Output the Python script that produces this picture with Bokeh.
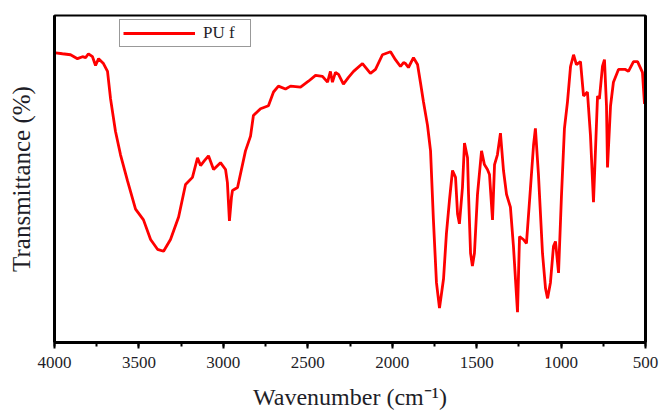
from bokeh.plotting import figure
from bokeh.models import Range1d, LinearAxis, SingleIntervalTicker, FixedTicker, Legend, LegendItem
from bokeh.embed import file_html
from bokeh.resources import INLINE

# FTIR spectrum of PUf
wavenumber = [3994, 3953, 3905, 3864, 3834, 3816, 3799, 3775, 3757, 3739, 3710, 3686, 3668, 3639,
              3609, 3568, 3520, 3473, 3431, 3390, 3354, 3313, 3265, 3224, 3183, 3153, 3135, 3112,
              3088, 3058, 3017, 2987, 2976, 2964, 2952, 2946, 2916, 2869, 2839, 2822, 2780, 2733,
              2703, 2674, 2632, 2602, 2543, 2496, 2454, 2413, 2383, 2366, 2354, 2336, 2318, 2289,
              2259, 2229, 2176, 2129, 2099, 2058, 2010, 1981, 1951, 1933, 1921, 1904, 1874, 1850,
              1833, 1815, 1791, 1773, 1756, 1738, 1720, 1696, 1679, 1661, 1643, 1625, 1613, 1602,
              1584, 1572, 1554, 1548, 1536, 1525, 1513, 1495, 1471, 1454, 1436, 1424, 1406, 1394,
              1377, 1359, 1341, 1323, 1300, 1282, 1258, 1246, 1223, 1205, 1181, 1163, 1152, 1134,
              1110, 1092, 1080, 1063, 1045, 1033, 1015, 998, 980, 962, 944, 926, 909, 885, 867,
              844, 826, 808, 784, 773, 755, 743, 731, 725, 707, 690, 660, 619, 601, 571, 547, 518, 506]
transmittance = [88.6, 88.3, 88.0, 86.8, 87.4, 87.1, 88.3, 87.4, 84.7, 86.8, 85.3, 82.9, 74.5, 64.6,
                 57.4, 49.5, 40.8, 37.5, 31.5, 28.5, 27.9, 31.5, 38.4, 48.3, 50.5, 56.5, 54.1, 55.6,
                 57.1, 52.9, 55.0, 52.9, 48.9, 37.2, 44.4, 46.5, 47.4, 58.6, 63.1, 69.4, 71.5, 72.4,
                 76.6, 78.4, 77.5, 78.4, 78.1, 79.9, 81.7, 81.4, 79.6, 82.9, 79.6, 82.6, 82.0, 79.0,
                 81.1, 82.9, 85.3, 82.3, 83.5, 88.0, 88.9, 86.5, 84.4, 85.6, 85.3, 84.1, 87.1, 85.0,
                 79.6, 73.6, 66.4, 58.6, 37.5, 18.3, 10.5, 19.5, 33.3, 43.5, 52.6, 50.5, 39.3, 36.3,
                 47.4, 61.0, 56.5, 45.3, 27.3, 23.4, 27.3, 45.3, 58.6, 54.4, 52.9, 51.4, 37.5, 54.4,
                 57.4, 64.0, 52.6, 45.3, 41.4, 29.4, 9.3, 32.4, 31.5, 30.3, 47.4, 60.4, 65.5, 51.4,
                 27.3, 16.5, 13.5, 18.3, 29.4, 30.9, 21.3, 44.4, 65.5, 73.6, 84.4, 88.0, 85.0, 85.9, 75.4,
                 76.6, 63.4, 42.9, 75.4, 74.5, 84.4, 86.5, 72.4, 53.5, 72.4, 79.6, 83.5, 83.5, 82.9, 85.9, 85.9, 82.6, 73.0]
series_name = "PU f"
x_label = "Wavenumber (cm\u207b\u00b9)"
y_label = "Transmittance (%)"

SERIF = "Liberation Serif"
TXT = "#1e1e28"

p = figure(width=664, height=412, output_backend="svg", toolbar_location=None,
           x_range=Range1d(4000, 500), y_range=Range1d(0, 100),
           min_border_left=54, min_border_right=19, min_border_top=15, min_border_bottom=64)
p.background_fill_color = "white"
p.border_fill_color = "white"
p.grid.visible = False
p.outline_line_color = "black"
p.outline_line_width = 2

r = p.line(wavenumber, transmittance, line_color="#ff0000", line_width=2.8)

xa = p.xaxis[0]
xa.ticker = SingleIntervalTicker(interval=500, num_minor_ticks=2)
xa.axis_line_width = 3
xa.major_tick_line_width = 2
xa.minor_tick_line_width = 2
xa.major_tick_in = 0
xa.major_tick_out = 6
xa.minor_tick_in = 0
xa.minor_tick_out = 4
xa.major_label_text_font = SERIF
xa.major_label_text_font_size = "17px"
xa.major_label_text_color = TXT
xa.major_label_standoff = 8
xa.axis_label = x_label
xa.axis_label_text_font = SERIF
xa.axis_label_text_font_style = "normal"
xa.axis_label_text_font_size = "24px"
xa.axis_label_text_color = TXT
xa.axis_label_standoff = 13

ya = p.yaxis[0]
ya.ticker = FixedTicker(ticks=[])
ya.axis_line_width = 3
ya.major_tick_line_color = None
ya.minor_tick_line_color = None
ya.axis_label = y_label
ya.axis_label_text_font = SERIF
ya.axis_label_text_font_style = "normal"
ya.axis_label_text_font_size = "25px"
ya.axis_label_text_color = TXT
ya.axis_label_standoff = 20

ra = LinearAxis(ticker=FixedTicker(ticks=[]), axis_line_width=3,
                major_tick_line_color=None, minor_tick_line_color=None)
p.add_layout(ra, "right")

legend = Legend(items=[LegendItem(label=series_name, renderers=[r])], location=(65, 295),
                glyph_width=72, glyph_height=20, label_height=20, label_width=44,
                padding=3, label_standoff=8, border_line_color="#333333", border_line_width=1.5,
                label_text_font=SERIF, label_text_font_size="17px", label_text_color=TXT,
                background_fill_alpha=1.0, margin=0)
p.add_layout(legend)

open("out.html", "w").write(file_html(p, INLINE))
